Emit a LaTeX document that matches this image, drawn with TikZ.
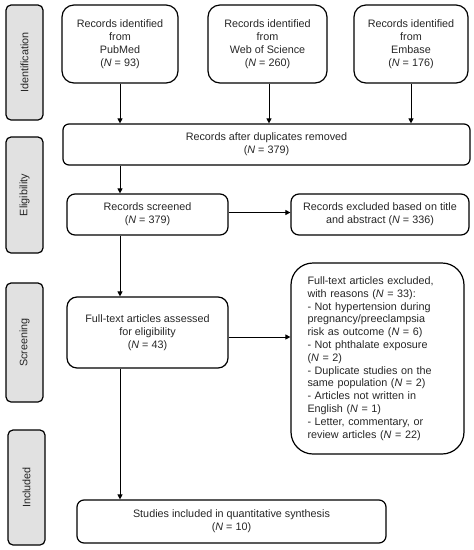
\documentclass[tikz,border=0pt]{standalone}
\usepackage{fontspec}
\setmainfont{Liberation Sans}
\usetikzlibrary{arrows.meta}
\definecolor{sidegray}{RGB}{225,225,225}
\newcommand{\NN}{\textit{N}}
\tikzset{
  box/.style={draw=black, line width=1.2pt, align=center, inner sep=2pt,
    font=\fontsize{10.8}{12.8}\selectfont, text=black!85},
  side/.style={draw=black, line width=1.2pt, fill=sidegray, rounded corners=5pt,
    rotate=90, minimum height=37pt, inner sep=0pt,
    font=\fontsize{10.8}{12.8}\selectfont, text=black!85},
  arr/.style={line width=1pt, -{Triangle[length=5pt,width=5pt]}}
}
\begin{document}
\begin{tikzpicture}[x=1pt,y=-1pt]
\useasboundingbox (0,0) rectangle (474,550);
% side labels
\node[side, minimum width=115pt] (sid) at (24.5,62.5) {Identification};
\node[side, minimum width=116pt] (sel) at (24.5,195) {Eligibility};
\node[side, minimum width=119pt] (ssc) at (24.5,342.5) {Screening};
\node[side, minimum width=115pt] (sin) at (26.5,487.5) {Included};
% boxes
\node[box, rounded corners=12pt, minimum width=116pt, minimum height=78pt] (pub) at (120,44)
  {Records identified\\from\\PubMed\\(\NN{} = 93)};
\node[box, rounded corners=12pt, minimum width=119pt, minimum height=78pt] (wos) at (267.5,44)
  {Records identified\\from\\Web of Science\\(\NN{} = 260)};
\node[box, rounded corners=12pt, minimum width=114pt, minimum height=78pt] (emb) at (411,44)
  {Records identified\\from\\Embase\\(\NN{} = 176)};
\node[box, rounded corners=6pt, minimum width=407pt, minimum height=41pt] (dup) at (266.5,144.5)
  {Records after duplicates removed\\(\NN{} = 379)};
\node[box, rounded corners=8pt, minimum width=161pt, minimum height=41pt] (scr) at (147.5,214.5)
  {Records screened\\(\NN{} = 379)};
\node[box, rounded corners=8pt, minimum width=178pt, minimum height=41pt] (exc) at (380,214.5)
  {Records excluded based on title\\and abstract (\NN{} = 336)};
\node[box, rounded corners=10pt, minimum width=161pt, minimum height=71pt] (ft) at (147.5,332.5)
  {Full-text articles assessed\\for eligibility\\(\NN{} = 43)};
\node[box, rounded corners=22pt, minimum width=173pt, minimum height=191pt, align=left, text width=140pt] (rea) at (377.5,358.5)
  {Full-text articles excluded,\\with reasons (\NN{} = 33):\\- Not hypertension during\\pregnancy/preeclampsia\\risk as outcome (\NN{} = 6)\\- Not phthalate exposure\\(\NN{} = 2)\\- Duplicate studies on the\\same population (\NN{} = 2)\\- Articles not written in\\English (\NN{} = 1)\\- Letter, commentary, or\\review articles (\NN{} = 22)};
\node[box, rounded corners=7pt, minimum width=309pt, minimum height=43pt] (inc) at (231.5,521.5)
  {Studies included in quantitative synthesis\\(\NN{} = 10)};
% connectors
\draw[arr] (pub.south) -- (pub.south |- dup.north);
\draw[arr] ([xshift=1.5pt]wos.south) -- ([xshift=1.5pt]wos.south |- dup.north);
\draw[arr] (emb.south) -- (emb.south |- dup.north);
\draw[arr] (dup.south -| pub.south) -- (scr.north -| pub.south);
\draw[arr] (scr.south -| pub.south) -- (ft.north -| pub.south);
\draw[arr] (ft.south -| pub.south) -- (inc.north -| pub.south);
\draw[arr] ([yshift=2pt]scr.east) -- ([yshift=2pt]scr.east -| exc.west);
\draw[arr] ([yshift=-4.5pt]ft.east) -- ([yshift=-4.5pt]ft.east -| rea.west);
\end{tikzpicture}
\end{document}
